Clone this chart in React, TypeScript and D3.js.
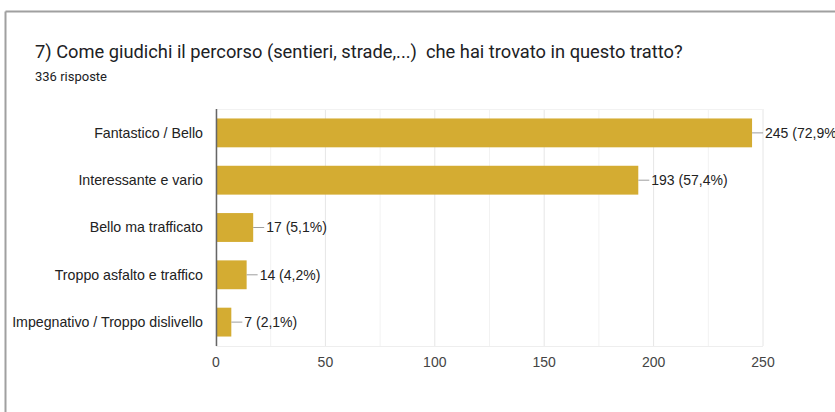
import React from "react";
import * as d3 from "d3";

const categories = [
  "Fantastico / Bello",
  "Interessante e vario",
  "Bello ma trafficato",
  "Troppo asfalto e traffico",
  "Impegnativo / Troppo dislivello",
];
const counts = [245, 193, 17, 14, 7];
const percents = ["72,9%", "57,4%", "5,1%", "4,2%", "2,1%"];
const majorTicks = [0, 50, 100, 150, 200, 250];
const minorTicks = [25, 75, 125, 175, 225];
const title = "7) Come giudichi il percorso (sentieri, strade,...)  che hai trovato in questo tratto?";
const subtitle = "336 risposte";

const W = 835;
const H = 412;

export default function App() {
  const x = d3.scaleLinear().domain([0, 250]).range([216, 763]);
  const y = d3.scaleBand<string>().domain(categories).range([109, 346]).paddingInner(0.39).paddingOuter(0.2);
  const chartFont = "'Liberation Sans', Arial, sans-serif";
  return (
    <svg width={W} height={H} style={{ position: "absolute", left: 0, top: 0, background: "#fff" }}>
      <line x1={5.5} y1={11.5} x2={W} y2={11.5} stroke="#a0a0a0" strokeWidth={2} />
      <line x1={5.5} y1={11.5} x2={5.5} y2={H} stroke="#a0a0a0" strokeWidth={2} />
      <text x={35} y={58} fontFamily="Roboto, sans-serif" fontSize={18.3} fill="#202124" style={{ whiteSpace: "pre" }}>{title}</text>
      <text x={35} y={81} fontFamily="Roboto, sans-serif" fontSize={13} fill="#202124">{subtitle}</text>
      {minorTicks.map((t) => (
        <line key={"mi" + t} x1={x(t)} x2={x(t)} y1={109} y2={346} stroke="#f2f2f2" />
      ))}
      {majorTicks.map((t) => (
        <line key={"ma" + t} x1={x(t)} x2={x(t)} y1={109} y2={346} stroke="#e6e6e6" />
      ))}
      <line x1={216} x2={763} y1={109.5} y2={109.5} stroke="#f2f2f2" />
      <line x1={216} x2={763} y1={346.5} y2={346.5} stroke="#eeeeee" />
      {categories.map((c, i) => {
        const yy = y(c)!;
        const bw = y.bandwidth();
        const cy = yy + bw / 2;
        return (
          <g key={c}>
            <rect x={x(0)} y={yy} width={x(counts[i]) - x(0)} height={bw} fill="#D4AC32" />
            <line x1={x(counts[i])} x2={x(counts[i]) + 11} y1={cy} y2={cy} stroke="#9e9e9e" />
            <text x={x(counts[i]) + 13} y={cy} dy="0.35em" fontFamily={chartFont} fontSize={14} fill="#222">
              {`${counts[i]} (${percents[i]})`}
            </text>
            <text x={203} y={cy} dy="0.35em" textAnchor="end" fontFamily={chartFont} fontSize={14.2} fill="#222">
              {c}
            </text>
          </g>
        );
      })}
      <line x1={216.5} x2={216.5} y1={109} y2={346} stroke="#666" strokeWidth={1.5} />
      {majorTicks.map((t) => (
        <text key={"t" + t} x={x(t)} y={362} dy="0.35em" textAnchor="middle" fontFamily={chartFont} fontSize={14} fill="#444">
          {t}
        </text>
      ))}
    </svg>
  );
}
